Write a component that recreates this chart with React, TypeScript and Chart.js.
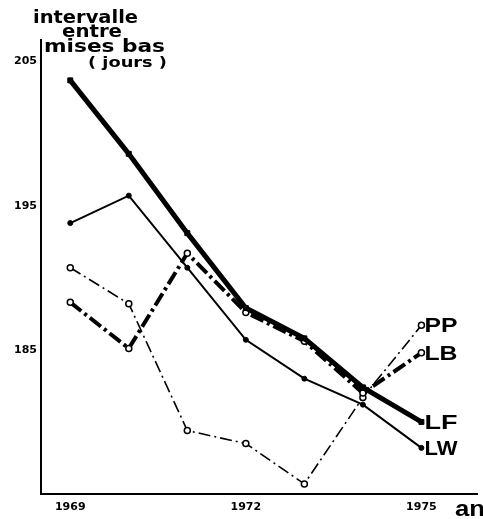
import { useEffect, useRef } from "react";
import { Chart, registerables } from "chart.js";

Chart.register(...registerables);

const years = [1969, 1970, 1971, 1972, 1973, 1974, 1975];
const LF = [203.7, 198.6, 193.1, 187.9, 185.8, 182.4, 180.0];
const LB = [188.3, 185.1, 191.7, 187.6, 185.6, 182.0, 184.8];
const LW = [193.8, 195.7, 190.7, 185.7, 183.0, 181.2, 178.2];
const PP = [190.7, 188.2, 179.4, 178.5, 175.7, 181.7, 186.7];
const xTicks = [1969, 1972, 1975];
const yTicks = [185, 195, 205];
const titleLines = ["intervalle", "entre", "mises bas", "( jours )"];
const xTitle = "an";

const pts = (vals: number[]) => years.map((y, i) => ({ x: y, y: vals[i] }));

const annotPlugin = {
  id: "annot",
  afterDraw(chart: any) {
    const ctx = chart.ctx as CanvasRenderingContext2D;
    ctx.save();
    ctx.fillStyle = "#000";
    const fit = (txt: string, font: string, x: number, baseline: number, width: number) => {
      ctx.font = font;
      const w = ctx.measureText(txt).width;
      ctx.save();
      ctx.translate(x, baseline);
      ctx.scale(width / w, 1);
      ctx.textBaseline = "alphabetic";
      ctx.textAlign = "left";
      ctx.fillText(txt, 0, 0);
      ctx.restore();
    };
    fit(titleLines[0], "bold 18px 'DejaVu Sans'", 33, 23, 105);
    fit(titleLines[1], "bold 17px 'DejaVu Sans'", 62, 37, 60);
    fit(titleLines[2], "bold 18px 'DejaVu Sans'", 44, 52, 121);
    fit(titleLines[3], "bold 14px 'DejaVu Sans'", 88, 67, 79);
    fit(xTitle, "bold 22px 'Liberation Sans'", 455, 516, 30);

    chart.data.datasets.forEach((ds: any, i: number) => {
      const meta = chart.getDatasetMeta(i);
      const pt = meta.data[meta.data.length - 1];
      ctx.font = "bold 21px 'Liberation Sans'";
      ctx.textBaseline = "middle";
      ctx.textAlign = "left";
      const w = ctx.measureText(ds.label).width;
      ctx.save();
      ctx.translate(pt.x + 3, pt.y + 1);
      ctx.scale(33 / w, 1);
      ctx.fillText(ds.label, 0, 0);
      ctx.restore();
    });
    ctx.restore();
  },
};

export default function App() {
  const ref = useRef<HTMLCanvasElement>(null);
  useEffect(() => {
    document.body.style.margin = "0";
    const chart = new Chart(ref.current as HTMLCanvasElement, {
      type: "line",
      data: {
        datasets: [
          {
            label: "LF",
            data: pts(LF),
            borderColor: "#000",
            backgroundColor: "#000",
            borderWidth: 5,
            pointStyle: "rect",
            pointRadius: 3.5,
            pointBorderWidth: 1,
            pointBackgroundColor: "#000",
          },
          {
            label: "LB",
            data: pts(LB),
            borderColor: "#000",
            borderWidth: 4,
            borderDash: [14, 4, 3, 4],
            pointRadius: 3,
            pointBorderWidth: 1.5,
            pointBackgroundColor: "#fff",
          },
          {
            label: "LW",
            data: pts(LW),
            borderColor: "#000",
            borderWidth: 2,
            pointRadius: 2.5,
            pointBorderWidth: 1,
            pointBackgroundColor: "#000",
          },
          {
            label: "PP",
            data: pts(PP),
            borderColor: "#000",
            borderWidth: 1.6,
            borderDash: [12, 4, 2, 4],
            pointRadius: 3,
            pointBorderWidth: 1.5,
            pointBackgroundColor: "#fff",
          },
        ],
      },
      options: {
        responsive: true,
        maintainAspectRatio: false,
        animation: false,
        layout: { padding: { top: 40, right: 6, left: 0, bottom: 0 } },
        plugins: { legend: { display: false }, tooltip: { enabled: false }, title: { display: false } },
        scales: {
          x: {
            type: "linear",
            min: 1968.5,
            max: 1975.95,
            grid: { display: false, drawTicks: false },
            border: { display: true, color: "#000", width: 2 },
            afterBuildTicks: (s: any) => {
              s.ticks = xTicks.map((v) => ({ value: v }));
            },
            afterFit: (s: any) => {
              s.height = 25;
            },
            ticks: {
              padding: 7,
              color: "#000",
              font: { family: "'DejaVu Sans'", size: 11, weight: "bold" },
              callback: (v: any) => String(v),
              maxRotation: 0,
            },
          },
          y: {
            type: "linear",
            min: 175,
            max: 206.5,
            grid: { display: false, drawTicks: false },
            border: { display: true, color: "#000", width: 2 },
            afterBuildTicks: (s: any) => {
              s.ticks = yTicks.map((v) => ({ value: v }));
            },
            afterFit: (s: any) => {
              s.width = 41;
            },
            ticks: {
              padding: 4,
              color: "#000",
              font: { family: "'DejaVu Sans'", size: 11, weight: "bold" },
              callback: (v: any) => String(v),
            },
          },
        },
      },
      plugins: [annotPlugin],
    });
    return () => chart.destroy();
  }, []);
  return (
    <div style={{ position: "fixed", left: 0, top: 0, width: 483, height: 519, background: "#fff" }}>
      <canvas ref={ref} />
    </div>
  );
}
